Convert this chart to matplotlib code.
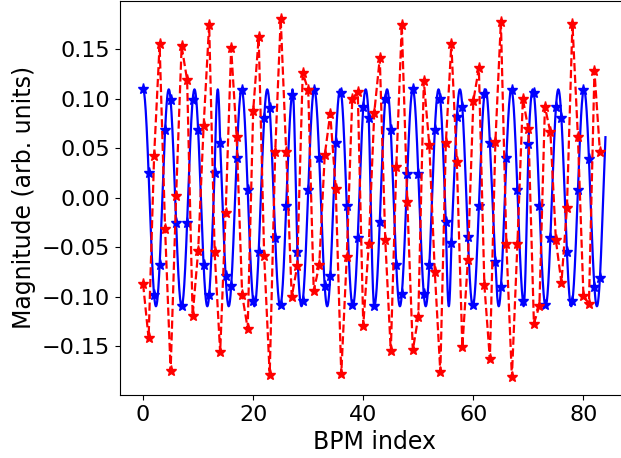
import numpy as np
import matplotlib
matplotlib.use("Agg")
import matplotlib.pyplot as plt

# measured orbit at each BPM (red)
measured = [-0.087, -0.142, 0.042, 0.155, -0.032, -0.175, 0.002, 0.153, 0.119, -0.119,
            -0.054, 0.073, 0.175, -0.055, -0.156, -0.015, 0.151, 0.061, -0.098, -0.132,
            0.088, 0.162, -0.059, -0.179, 0.046, 0.181, 0.046, -0.100, -0.069, 0.126,
            0.109, -0.094, -0.068, 0.043, 0.085, 0.009, -0.178, -0.060, 0.100, 0.107,
            -0.129, -0.047, 0.086, 0.141, -0.043, -0.155, 0.031, 0.175, -0.004, -0.154,
            -0.120, 0.118, 0.053, -0.075, -0.176, 0.055, 0.155, 0.036, -0.151, -0.063,
            0.098, 0.131, -0.088, -0.163, 0.056, 0.178, -0.047, -0.181, -0.047, 0.100,
            0.069, -0.127, -0.109, 0.092, 0.066, -0.043, -0.086, -0.010, 0.176, 0.061,
            -0.099, -0.107, 0.128, 0.046]

# model oscillation: amplitude and betatron phase (deg) read at each BPM (0..84)
model_amp = 0.1095
model_phase_deg = [0, 76.7, 154.1, 231.4, 308.6, 385.9, 463.3, 540, 616.7, 694.1,
                   771.4, 848.6, 925.9, 1003.3, 1139.7, 1216.5, 1295.3, 1371.5, 1447.7, 1525.8,
                   1602.6, 1680.3, 1757.2, 1834.3, 1911.5, 1987.7, 2065.8, 2140.9, 2279.7, 2357.4,
                   2434.2, 2512.3, 2588.5, 2664.7, 2743.5, 2820.3, 2895.6, 2974.2, 3052.3, 3128.5,
                   3206.6, 3282.8, 3420.0, 3497.3, 3575.3, 3651.4, 3728.6, 3807.1, 3882.7, 3960.0,
                   4037.3, 4112.9, 4191.4, 4268.6, 4344.7, 4422.7, 4565.6, 4638.0, 4713.4, 4791.0,
                   4867.7, 4945.8, 5022.6, 5099.7, 5166.0, 5254.3, 5331.5, 5407.7, 5485.8, 5562.6,
                   5699.7, 5775.6, 5854.2, 5930.0, 6008.5, 6086.6, 6162.8, 6239.7, 6317.4, 6394.2,
                   6472.3, 6549.0, 6625.7, 6702.7, 6784.0]
model_end = 84.0

bpm = np.arange(len(measured))
phase_bpm = np.radians(model_phase_deg)

fig = plt.figure(figsize=(6.21, 4.58), dpi=100)
ax = fig.add_axes([0.1932, 0.1376, 0.819, 0.861])

s = np.linspace(0, model_end, 3000)
ax.plot(s, model_amp * np.cos(np.interp(s, np.arange(len(model_phase_deg)), phase_bpm)),
        'b-', lw=1.6)
ax.plot(bpm, model_amp * np.cos(phase_bpm[:len(bpm)]), 'b*', ms=8)
ax.plot(bpm, measured, 'r*--', lw=1.6, ms=8)

ax.set_xlabel('BPM index', fontsize=17)
ax.set_ylabel('Magnitude (arb. units)', fontsize=17)
ax.tick_params(labelsize=16)

fig.savefig('out.png', dpi=100)
